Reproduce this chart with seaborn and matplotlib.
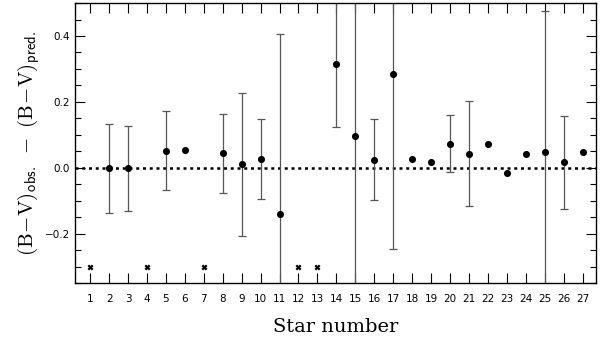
import numpy as np
import pandas as pd
import seaborn as sns
import matplotlib.pyplot as plt
from matplotlib.ticker import MultipleLocator

sns.set_style("ticks")
plt.rcParams['font.family'] = ['DejaVu Sans']
plt.rcParams['mathtext.fontset'] = 'cm'
plt.rcParams['text.color'] = 'black'
plt.rcParams['axes.labelcolor'] = 'black'
plt.rcParams['xtick.color'] = 'black'
plt.rcParams['ytick.color'] = 'black'

# measured stars: colour residual and its (symmetric) error
stars = [2, 3, 5, 6, 8, 9, 10, 11, 14, 15, 16, 17, 18, 19, 20, 21, 22, 23, 24, 25, 26, 27]
resid = [-0.002, -0.002, 0.052, 0.055, 0.044, 0.010, 0.027, -0.140, 0.315, 0.097, 0.025,
         0.285, 0.027, 0.016, 0.073, 0.043, 0.073, -0.017, 0.041, 0.047, 0.017, 0.049]
err = [0.135, 0.130, 0.120, np.nan, 0.120, 0.217, 0.122, 0.547, 0.190, 0.600, 0.122,
       0.532, np.nan, np.nan, 0.086, 0.159, np.nan, np.nan, np.nan, 0.429, 0.141, np.nan]

# stars without a measurement, flagged at the bottom
missing = [1, 4, 7, 12, 13]
missing_level = [-0.3] * len(missing)

df = pd.DataFrame({'star': stars, 'resid': resid, 'err': err})

fig = plt.figure(figsize=(6.0, 3.41), dpi=100)
ax = fig.add_axes([0.125, 0.170, 0.868, 0.821])

has_err = df.dropna(subset=['err'])
ax.errorbar(has_err['star'], has_err['resid'], yerr=has_err['err'], fmt='none',
            ecolor='#555555', elinewidth=0.9, capsize=3, capthick=0.9, zorder=2)
sns.scatterplot(x='star', y='resid', data=df, ax=ax, color='black', s=26,
                edgecolor='black', linewidth=0, zorder=3)
ax.scatter(missing, missing_level, marker='x', color='black', s=10, linewidths=1.6, zorder=3)

ax.axhline(0, color='black', linestyle=(0, (1.2, 1.5)), linewidth=1.8, zorder=1)

ax.set_xlim(0.2, 27.7)
ax.set_ylim(-0.35, 0.5)
ax.xaxis.set_major_locator(MultipleLocator(1))
ax.yaxis.set_minor_locator(MultipleLocator(0.05))
ax.set_yticks([-0.2, 0.0, 0.2, 0.4])
ax.set_yticklabels(['\u22120.2', '0.0', '0.2', '0.4'])
ax.tick_params(which='both', direction='in', top=True, right=True, labelsize=7.5,
               width=0.8)
ax.tick_params(which='major', length=7)
ax.tick_params(which='minor', length=4)
ax.tick_params(axis='x', pad=8)
for s in ax.spines.values():
    s.set_linewidth(1.0)
    s.set_color('black')

ax.set_xlabel('Star number', family='DejaVu Serif', fontsize=14, labelpad=10)
ax.set_ylabel(r'$\mathrm{(B\!-\!V)}_{\mathsf{obs.}}\ -\ \mathrm{(B\!-\!V)}_{\mathsf{pred.}}$',
              fontsize=15, labelpad=2)

fig.savefig('out.png', dpi=100)
